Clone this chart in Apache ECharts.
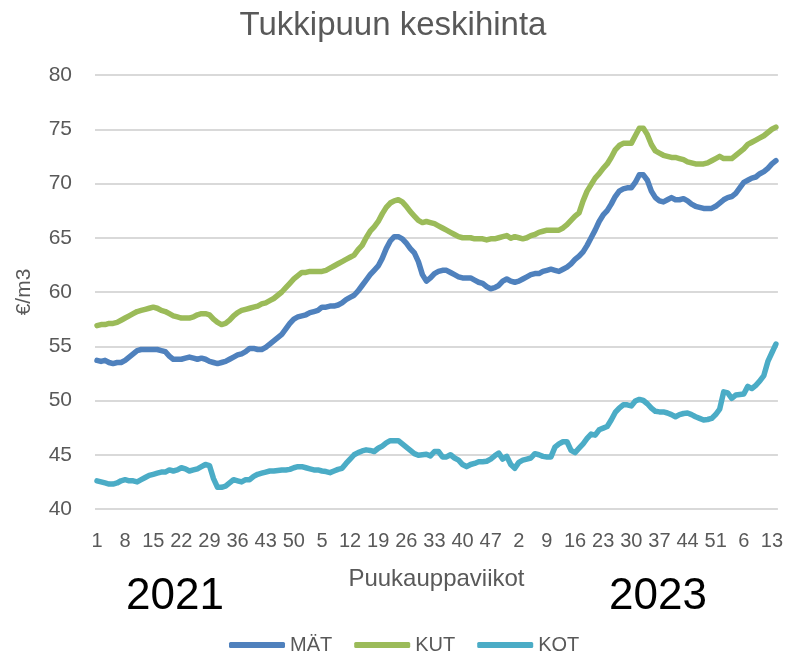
<!DOCTYPE html>
<html>
<head>
<meta charset="utf-8">
<script src="https://cdn.jsdelivr.net/npm/echarts@6/dist/echarts.min.js"></script>
<style>
  html, body { margin: 0; padding: 0; background: #fff; }
  #chart { width: 786px; height: 659px; }
</style>
</head>
<body>
<div id="chart"></div>
<script>
// weeks shown per year: 2021, 2022, 2023, 2024 (to week 14)
const yearWeeks = [52, 52, 52, 14]
const weeks = yearWeeks.flatMap(n => Array.from({ length: n }, (_, i) => String(i + 1)))

const yTicks = [40, 45, 50, 55, 60, 65, 70, 75, 80]

const mat = [
  53.7, 53.6, 53.7, 53.5, 53.4, 53.5, 53.5, 53.7, 54.0, 54.3,
  54.6, 54.7, 54.7, 54.7, 54.7, 54.7, 54.6, 54.5, 54.1, 53.8,
  53.8, 53.8, 53.9, 54.0, 53.9, 53.8, 53.9, 53.8, 53.6, 53.5,
  53.4, 53.5, 53.6, 53.8, 54.0, 54.2, 54.3, 54.5, 54.8, 54.8,
  54.7, 54.7, 54.9, 55.2, 55.5, 55.8, 56.1, 56.6, 57.1, 57.5,
  57.7, 57.8, 57.9, 58.1, 58.2, 58.3, 58.6, 58.6, 58.7, 58.7,
  58.8, 59.0, 59.3, 59.5, 59.7, 60.1, 60.6, 61.1, 61.6, 62.0,
  62.4, 63.1, 64.0, 64.7, 65.1, 65.1, 64.9, 64.5, 64.0, 63.6,
  62.8, 61.6, 61.0, 61.3, 61.7, 61.9, 62.0, 62.0, 61.8, 61.6,
  61.4, 61.3, 61.3, 61.3, 61.1, 60.9, 60.8, 60.5, 60.3, 60.4,
  60.6, 61.0, 61.2, 61.0, 60.9, 61.0, 61.2, 61.4, 61.6, 61.7,
  61.7, 61.9, 62.0, 62.1, 62.0, 61.9, 62.1, 62.3, 62.6, 63.0,
  63.3, 63.7, 64.3, 65.0, 65.7, 66.5, 67.1, 67.5, 68.1, 68.8,
  69.3, 69.5, 69.6, 69.6, 70.1, 70.8, 70.8, 70.3, 69.3, 68.7,
  68.4, 68.3, 68.5, 68.7, 68.5, 68.5, 68.6, 68.4, 68.1, 67.9,
  67.8, 67.7, 67.7, 67.7, 67.9, 68.2, 68.5, 68.7, 68.8, 69.1,
  69.6, 70.1, 70.3, 70.5, 70.6, 70.9, 71.1, 71.4, 71.8, 72.1
]

const kut = [
  56.9, 57.0, 57.0, 57.1, 57.1, 57.2, 57.4, 57.6, 57.8, 58.0,
  58.2, 58.3, 58.4, 58.5, 58.6, 58.5, 58.3, 58.2, 58.0, 57.8,
  57.7, 57.6, 57.6, 57.6, 57.7, 57.9, 58.0, 58.0, 57.9, 57.5,
  57.2, 57.0, 57.1, 57.4, 57.8, 58.1, 58.3, 58.4, 58.5, 58.6,
  58.7, 58.9, 59.0, 59.2, 59.4, 59.7, 60.0, 60.4, 60.8, 61.2,
  61.5, 61.8, 61.8, 61.9, 61.9, 61.9, 61.9, 62.0, 62.2, 62.4,
  62.6, 62.8, 63.0, 63.2, 63.4, 63.9, 64.3, 65.0, 65.6, 66.0,
  66.5, 67.2, 67.8, 68.2, 68.4, 68.5, 68.3, 67.9, 67.4, 67.0,
  66.6, 66.4, 66.5, 66.4, 66.3, 66.1, 65.9, 65.7, 65.5, 65.3,
  65.1, 65.0, 65.0, 65.0, 64.9, 64.9, 64.9, 64.8, 64.9, 64.9,
  65.0, 65.1, 65.2, 64.95, 65.1, 65.0, 64.9, 65.0, 65.2, 65.3,
  65.5, 65.6, 65.7, 65.7, 65.7, 65.7, 65.9, 66.2, 66.6, 67.0,
  67.3, 68.4, 69.3, 69.9, 70.5, 70.9, 71.4, 71.8, 72.4, 73.1,
  73.5, 73.7, 73.7, 73.7, 74.4, 75.1, 75.1, 74.5, 73.6, 73.0,
  72.8, 72.6, 72.5, 72.4, 72.4, 72.3, 72.2, 72.0, 71.9, 71.8,
  71.8, 71.8, 71.9, 72.1, 72.3, 72.5, 72.3, 72.3, 72.3, 72.6,
  72.9, 73.2, 73.6, 73.8, 74.0, 74.2, 74.4, 74.7, 75.0, 75.2
]

const kot = [
  42.6, 42.5, 42.4, 42.3, 42.3, 42.4, 42.6, 42.7, 42.6, 42.6,
  42.5, 42.7, 42.9, 43.1, 43.2, 43.3, 43.4, 43.4, 43.6, 43.5,
  43.6, 43.8, 43.7, 43.5, 43.6, 43.7, 43.9, 44.1, 44.0, 42.8,
  42.0, 42.0, 42.1, 42.4, 42.7, 42.6, 42.5, 42.7, 42.7, 43.0,
  43.2, 43.3, 43.4, 43.5, 43.5, 43.55, 43.6, 43.6, 43.65, 43.8,
  43.9, 43.9, 43.8, 43.7, 43.6, 43.6, 43.5, 43.45, 43.35, 43.5,
  43.65, 43.75, 44.2, 44.6, 45.0, 45.2, 45.35, 45.45, 45.4, 45.3,
  45.6, 45.8, 46.1, 46.3, 46.3, 46.3, 46.0, 45.7, 45.4, 45.1,
  44.95, 45.0, 45.05, 44.9, 45.3, 45.3, 44.8, 44.8, 45.0, 44.7,
  44.5, 44.1, 43.9, 44.1, 44.2, 44.35, 44.35, 44.4, 44.6, 44.9,
  45.15, 44.6, 44.85, 44.1, 43.75, 44.3, 44.5, 44.6, 44.7, 45.1,
  45.0, 44.85, 44.8, 44.8, 45.7, 46.0, 46.2, 46.2, 45.4, 45.2,
  45.6, 46.0, 46.5, 46.9, 46.8, 47.3, 47.45, 47.6, 48.2, 48.9,
  49.3, 49.6, 49.6, 49.5, 49.95, 50.1, 50.0, 49.7, 49.3, 49.0,
  48.95, 48.95, 48.85, 48.7, 48.5, 48.7, 48.8, 48.85, 48.7, 48.5,
  48.35, 48.2, 48.25, 48.35, 48.7, 49.2, 50.8, 50.7, 50.2, 50.5,
  50.55, 50.6, 51.3, 51.1, 51.4, 51.8, 52.3, 53.6, 54.4, 55.2
]

const font = 'Liberation Sans'
const textGrey = '#595959'

const chart = echarts.init(document.getElementById('chart'))

const line = (name, data, color) => ({
  name,
  type: 'line',
  data,
  showSymbol: false,
  symbol: 'none',
  lineStyle: { width: 5.5, color, cap: 'round', join: 'round' },
  itemStyle: { color },
  emphasis: { disabled: true },
})

chart.setOption({
  backgroundColor: '#fff',
  animation: false,
  textStyle: { fontFamily: font },
  title: {
    text: 'Tukkipuun keskihinta',
    left: 'center',
    top: 4,
    textStyle: { fontFamily: font, fontSize: 33, fontWeight: 'normal', color: textGrey },
  },
  grid: { left: 95, right: 4, top: 75, bottom: 150 },
  legend: {
    top: 635,
    left: 229,
    icon: 'roundRect',
    itemWidth: 56,
    itemHeight: 6,
    itemGap: 22,
    padding: 0,
    textStyle: { fontFamily: font, fontSize: 20, color: textGrey },
    data: ['MÄT', 'KUT', 'KOT'],
  },
  xAxis: {
    type: 'category',
    data: weeks,
    boundaryGap: true,
    name: 'Puukauppaviikot',
    nameLocation: 'middle',
    nameGap: 58,
    nameTextStyle: { fontFamily: font, fontSize: 24, color: textGrey },
    axisLine: { show: false },
    axisTick: { show: false },
    axisLabel: { interval: 6, margin: 22, fontSize: 20, color: textGrey, fontFamily: font },
  },
  yAxis: {
    type: 'value',
    min: yTicks[0],
    max: yTicks[yTicks.length - 1],
    interval: 5,
    name: '€/m3',
    nameLocation: 'middle',
    nameGap: 60,
    nameTextStyle: { fontFamily: font, fontSize: 21, color: textGrey },
    axisLine: { show: false },
    axisTick: { show: false },
    axisLabel: { margin: 23, fontSize: 21, color: textGrey, fontFamily: font },
    splitLine: { lineStyle: { color: '#d9d9d9', width: 2 } },
  },
  graphic: [
    { type: 'text', left: 126, top: 575, style: { text: '2021', fontFamily: font, fontSize: 44, fill: '#000' } },
    { type: 'text', left: 609, top: 575, style: { text: '2023', fontFamily: font, fontSize: 44, fill: '#000' } },
  ],
  series: [
    line('MÄT', mat, '#4f81bd'),
    line('KUT', kut, '#9bbb59'),
    line('KOT', kot, '#4bacc6'),
  ],
})
</script>
</body>
</html>
